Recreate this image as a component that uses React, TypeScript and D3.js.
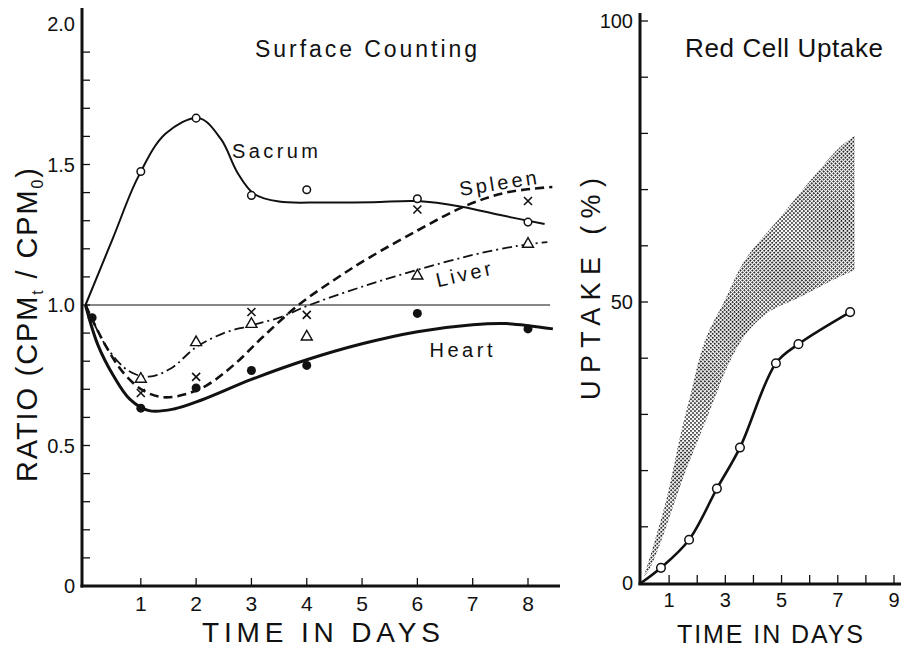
import React from "react";
import * as d3 from "d3";

// ---------- Left panel: Surface Counting ----------
const leftXTicks = [1, 2, 3, 4, 5, 6, 7, 8];
const leftYMinorTicks = d3.range(1, 20).map((i) => i / 10);
const leftYLabels = [
  { v: 0, t: "0" },
  { v: 0.5, t: "0.5" },
  { v: 1.0, t: "1.0" },
  { v: 1.5, t: "1.5" },
  { v: 2.0, t: "2.0" },
];

const sacrumPts: [number, number][] = [[1, 1.475], [2, 1.665], [3, 1.39], [4, 1.41], [6, 1.378], [8, 1.295]];
const spleenPts: [number, number][] = [[1, 0.687], [2, 0.744], [3, 0.975], [4, 0.965], [6, 1.34], [8, 1.37]];
const liverPts: [number, number][] = [[1, 0.74], [2, 0.87], [3, 0.935], [4, 0.89], [6, 1.107], [8, 1.22]];
const heartPts: [number, number][] = [[0.12, 0.955], [1, 0.633], [2, 0.705], [3, 0.767], [4, 0.785], [6, 0.97], [8, 0.915]];

// hand-drawn fitted curves
const sacrumCurve: [number, number][] = [
  [0, 1.0], [0.5, 1.24], [0.95, 1.455], [1.45, 1.61], [2.05, 1.665], [2.45, 1.59],
  [2.75, 1.47], [3.05, 1.395], [3.5, 1.368], [4.3, 1.365], [5.2, 1.366], [6, 1.37], [6.8, 1.35], [7.5, 1.32], [8.3, 1.288],
];
const spleenCurve: [number, number][] = [
  [0, 1.0], [0.35, 0.86], [0.7, 0.755], [1.05, 0.695], [1.4, 0.672], [1.8, 0.682], [2.2, 0.715],
  [2.7, 0.79], [3.2, 0.885], [3.85, 1.0], [4.5, 1.09], [5.1, 1.165], [6, 1.265], [6.84, 1.35], [7.6, 1.4], [8.44, 1.42],
];
const liverCurve: [number, number][] = [
  [0, 1.0], [0.4, 0.845], [0.8, 0.763], [1.15, 0.745], [1.55, 0.775], [2, 0.85], [2.5, 0.9], [2.95, 0.925],
  [3.5, 0.955], [4.05, 1.0], [5, 1.065], [6, 1.125], [7, 1.178], [7.8, 1.21], [8.35, 1.224],
];
const heartCurve: [number, number][] = [
  [0, 1.0], [0.22, 0.86], [0.5, 0.75], [0.8, 0.665], [1.15, 0.624], [1.6, 0.63], [2.1, 0.662],
  [3, 0.735], [4, 0.805], [5, 0.862], [6, 0.905], [7, 0.93], [7.6, 0.934], [8.45, 0.915],
];

// ---------- Right panel: Red Cell Uptake ----------
const rightXTicks = [1, 2, 3, 4, 5, 6, 7, 8, 9];
const rightXLabels = [1, 3, 5, 7, 9];
const rightYTicks = [10, 20, 30, 40, 50, 60, 70, 80, 90, 100];
const rightYLabels = [0, 50, 100];
const uptakePts: [number, number][] = [[0.71, 2.7], [1.71, 7.7], [2.7, 16.8], [3.52, 24.1], [4.8, 39.1], [5.6, 42.5], [7.44, 48.2]];
const uptakeCurve: [number, number][] = [[0, 0], ...uptakePts];
const bandUpper: [number, number][] = [
  [0.1, 1.2], [0.25, 3.5], [0.9, 14.8], [1.42, 26.7], [1.74, 33.1], [2.28, 43.2], [2.99, 50.4],
  [3.7, 57.5], [4.95, 65.1], [6.12, 72.2], [7.08, 77.6], [7.6, 79.6],
];
const bandLower: [number, number][] = [
  [7.6, 55.7], [6.62, 53.4], [5.66, 50.9], [4.48, 48.0], [3.7, 44.1], [3.1, 38.8], [2.6, 32.6],
  [2.1, 26.3], [1.6, 20.1], [1.1, 13.0], [0.6, 5.9], [0.25, 2.0], [0.1, 1.2],
];

const FONT = "'Liberation Sans', Arial, sans-serif";
const INK = "#111";

const xL = d3.scaleLinear().domain([0, 8]).range([85.5, 528]);
const yL = d3.scaleLinear().domain([0, 2]).range([586, 24]);
const xR = d3.scaleLinear().domain([0, 9]).range([641, 894]);
const yR = d3.scaleLinear().domain([0, 100]).range([583, 21]);

const lineL = d3.line<[number, number]>().x((d) => xL(d[0])).y((d) => yL(d[1])).curve(d3.curveCatmullRom.alpha(0.5));
const lineR = d3.line<[number, number]>().x((d) => xR(d[0])).y((d) => yR(d[1])).curve(d3.curveCatmullRom.alpha(0.5));

function bandPath() {
  const up = lineR(bandUpper) || "";
  const lo = (lineR(bandLower) || "").replace(/^M/, "L");
  return up + lo + "Z";
}

function Circle({ x, y, r = 4 }: { x: number; y: number; r?: number }) {
  return <circle cx={x} cy={y} r={r} fill="#fff" stroke={INK} strokeWidth={1.5} />;
}
function Tri({ x, y }: { x: number; y: number }) {
  const s = 5.5;
  return (
    <path
      d={`M${x},${y - s}L${x + s},${y + s * 0.75}L${x - s},${y + s * 0.75}Z`}
      fill="#fff"
      stroke={INK}
      strokeWidth={1.4}
    />
  );
}
function Cross({ x, y }: { x: number; y: number }) {
  const s = 4;
  return (
    <path d={`M${x - s},${y - s}L${x + s},${y + s}M${x - s},${y + s}L${x + s},${y - s}`} stroke={INK} strokeWidth={1.6} />
  );
}

export default function App() {
  return (
    <svg
      width={901}
      height={653}
      viewBox="0 0 901 653"
      style={{ position: "absolute", left: 0, top: 0, background: "#fff" }}
      fontFamily={FONT}
    >
      <defs>
        <pattern id="stip" width="2.8" height="2.8" patternUnits="userSpaceOnUse" patternTransform="rotate(45)">
          <rect width="1.7" height="1.7" fill="#111" />
        </pattern>
      </defs>
      <rect width={901} height={653} fill="#fff" />

      {/* ===== Left panel ===== */}
      <line x1={82} y1={8} x2={82} y2={587.5} stroke={INK} strokeWidth={3} />
      <line x1={80.5} y1={586} x2={560} y2={586} stroke={INK} strokeWidth={3} />
      {leftYMinorTicks.map((v) => (
        <line key={"ly" + v} x1={82} x2={90} y1={yL(v)} y2={yL(v)} stroke={INK} strokeWidth={1.3} />
      ))}
      {leftXTicks.map((d) => (
        <line key={"lx" + d} x1={xL(d)} x2={xL(d)} y1={586} y2={578} stroke={INK} strokeWidth={1.3} />
      ))}
      {leftYLabels.map((l) => (
        <text key={"lyl" + l.v} x={75} y={yL(l.v) + 7} fontSize={20} textAnchor="end" fill={INK}>
          {l.t}
        </text>
      ))}
      {leftXTicks.map((d) => (
        <text key={"lxl" + d} x={xL(d)} y={611} fontSize={21} textAnchor="middle" fill={INK}>
          {d}
        </text>
      ))}
      <text x={321} y={642} fontSize={28} textAnchor="middle" fill={INK} textLength={238} lengthAdjust="spacing">
        TIME IN DAYS
      </text>
      <text
        transform="translate(37,325) rotate(-90)"
        fontSize={29}
        textAnchor="middle"
        fill={INK}
        textLength={314}
        lengthAdjust="spacing"
      >
        RATIO (CPM<tspan fontSize={16} dy={6}>t</tspan>
        <tspan dy={-6}> / CPM</tspan>
        <tspan fontSize={16} dy={6}>0</tspan>
        <tspan dy={-6}>)</tspan>
      </text>
      <text x={366} y={57} fontSize={23} textAnchor="middle" fill={INK} textLength={222} lengthAdjust="spacing">
        Surface Counting
      </text>

      {/* reference line at 1.0 */}
      <line x1={xL(0)} x2={xL(8.4)} y1={yL(1)} y2={yL(1)} stroke={INK} strokeWidth={1.2} />

      <path d={lineL(sacrumCurve) || ""} fill="none" stroke={INK} strokeWidth={2} />
      <path d={lineL(spleenCurve) || ""} fill="none" stroke={INK} strokeWidth={2.6} strokeDasharray="9,5" />
      <path d={lineL(liverCurve) || ""} fill="none" stroke={INK} strokeWidth={1.8} strokeDasharray="10,4,2,4" />
      <path d={lineL(heartCurve) || ""} fill="none" stroke={INK} strokeWidth={3} />

      {sacrumPts.map((p, i) => (
        <Circle key={"sa" + i} x={xL(p[0])} y={yL(p[1])} r={3.8} />
      ))}
      {spleenPts.map((p, i) => (
        <Cross key={"sp" + i} x={xL(p[0])} y={yL(p[1])} />
      ))}
      {liverPts.map((p, i) => (
        <Tri key={"li" + i} x={xL(p[0])} y={yL(p[1])} />
      ))}
      {heartPts.map((p, i) => (
        <circle key={"he" + i} cx={xL(p[0])} cy={yL(p[1])} r={4.5} fill={INK} />
      ))}

      <text x={275} y={158} fontSize={20} textAnchor="middle" fill={INK} textLength={86} lengthAdjust="spacing">
        Sacrum
      </text>
      <text
        transform="translate(499,190) rotate(-9)"
        fontSize={20}
        textAnchor="middle"
        fill={INK}
        textLength={78}
        lengthAdjust="spacing"
      >
        Spleen
      </text>
      <text
        transform="translate(465,281) rotate(-13)"
        fontSize={20}
        textAnchor="middle"
        fill={INK}
        textLength={56}
        lengthAdjust="spacing"
      >
        Liver
      </text>
      <text x={461} y={357} fontSize={20} textAnchor="middle" fill={INK} textLength={63} lengthAdjust="spacing">
        Heart
      </text>

      {/* ===== Right panel ===== */}
      <path d={bandPath()} fill="url(#stip)" stroke="none" />
      <line x1={640} y1={13} x2={640} y2={585} stroke={INK} strokeWidth={3} />
      <line x1={638.5} y1={584} x2={901} y2={584} stroke={INK} strokeWidth={3} />
      {rightYTicks.map((v) => (
        <line key={"ry" + v} x1={640} x2={648} y1={yR(v)} y2={yR(v)} stroke={INK} strokeWidth={1.3} />
      ))}
      {rightXTicks.map((d) => (
        <line key={"rx" + d} x1={xR(d)} x2={xR(d)} y1={584} y2={575} stroke={INK} strokeWidth={1.3} />
      ))}
      {rightYLabels.map((v) => (
        <text key={"ryl" + v} x={633} y={yR(v) + 7} fontSize={20} textAnchor="end" fill={INK}>
          {v}
        </text>
      ))}
      {rightXLabels.map((d) => (
        <text key={"rxl" + d} x={xR(d)} y={607} fontSize={20} textAnchor="middle" fill={INK}>
          {d}
        </text>
      ))}
      <text x={770} y={643} fontSize={25} textAnchor="middle" fill={INK} textLength={186} lengthAdjust="spacing">
        TIME IN DAYS
      </text>
      <text
        transform="translate(600,289) rotate(-90)"
        fontSize={27}
        textAnchor="middle"
        fill={INK}
        textLength={222}
        lengthAdjust="spacing"
      >
        UPTAKE (%)
      </text>
      <text x={784} y={57} fontSize={26} textAnchor="middle" fill={INK} textLength={198} lengthAdjust="spacing">
        Red Cell Uptake
      </text>

      <path d={lineR(uptakeCurve) || ""} fill="none" stroke={INK} strokeWidth={2.6} />
      {uptakePts.map((p, i) => (
        <Circle key={"up" + i} x={xR(p[0])} y={yR(p[1])} r={4.3} />
      ))}
    </svg>
  );
}
